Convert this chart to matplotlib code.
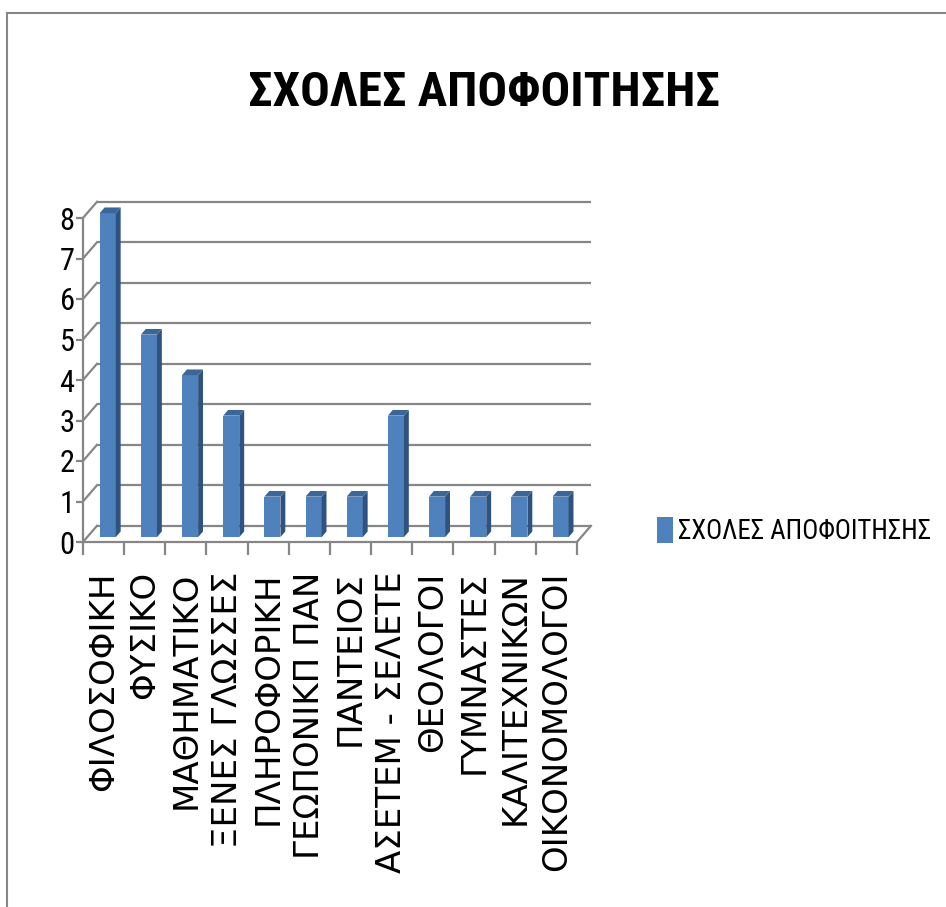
import matplotlib
matplotlib.use("Agg")
import matplotlib.pyplot as plt
from matplotlib import font_manager
from matplotlib.patches import Polygon, Patch
from matplotlib.lines import Line2D
import numpy as np

# ---------------------------------------------------------
# data
# ---------------------------------------------------------
title = "ΣΧΟΛΕΣ ΑΠΟΦΟΙΤΗΣΗΣ"
series_name = "ΣΧΟΛΕΣ ΑΠΟΦΟΙΤΗΣΗΣ"
schools = [
    "ΦΙΛΟΣΟΦΙΚΗ", "ΦΥΣΙΚΟ", "ΜΑΘΗΜΑΤΙΚΟ", "ΞΕΝΕΣ ΓΛΩΣΣΕΣ",
    "ΠΛΗΡΟΦΟΡΙΚΗ", "ΓΕΩΠΟΝΙΚΠ ΠΑΝ", "ΠΑΝΤΕΙΟΣ", "ΑΣΕΤΕΜ - ΣΕΛΕΤΕ",
    "ΘΕΟΛΟΓΟΙ", "ΓΥΜΝΑΣΤΕΣ", "ΚΑΛΙΤΕΧΝΙΚΩΝ", "ΟΙΚΟΝΟΜΟΛΟΓΟΙ",
]
graduates = [8, 5, 4, 3, 1, 1, 1, 3, 1, 1, 1, 1]
y_ticks = [0, 1, 2, 3, 4, 5, 6, 7, 8]


def pick_font(names):
    for name in names:
        try:
            font_manager.findfont(name, fallback_to_default=False)
            return name
        except ValueError:
            pass
    return "DejaVu Sans"


narrow = pick_font(["Roboto Condensed", "Open Sans Condensed",
                    "DejaVu Sans Condensed", "Roboto"])

# colours
FRONT = "#4F81BD"
SIDE = "#2F5381"
TOP = "#3B6699"
GRID = "#868686"

W, H = 946, 907
fig = plt.figure(figsize=(W / 100, H / 100), dpi=100)

# axes placed so that x 0..12 / y 0..8 land on the front plane
ax = fig.add_axes([41.8 / W, (H - 602.75) / H, 576.3 / W, 425.25 / H])
ax.set_xlim(-1, 13)
ax.set_ylim(-1.5, 9)
ax.patch.set_visible(False)

n = len(schools)
dx, dy = 0.34, 0.40          # depth of the pseudo-3d box
f0, f1 = 0.30, 0.65          # bar depth (front / back fraction)
bw = 0.39

# back wall gridlines + left wall diagonals
ax.hlines([t + dy for t in y_ticks], dx, n + dx, color=GRID, lw=1.6, zorder=1)
for t in y_ticks:
    ax.plot([0, dx], [t, t + dy], color=GRID, lw=1.6, zorder=1, clip_on=False)
# floor right edge
ax.plot([n, n + dx], [0, dy], color=GRID, lw=1.6, zorder=1, clip_on=False)

# bars: front face, side, top
x = np.arange(n) + 0.5
lefts = x - bw / 2 + f0 * dx
bottom = f0 * dy
ax.bar(lefts, graduates, width=bw, bottom=bottom, align="edge",
       color=FRONT, edgecolor="none", zorder=3)
ddx, ddy = (f1 - f0) * dx, (f1 - f0) * dy
for xl, v in zip(lefts, graduates):
    xr = xl + bw
    top = v + bottom
    ax.add_patch(Polygon([(xr, bottom), (xr + ddx, bottom + ddy),
                          (xr + ddx, top + ddy), (xr, top)],
                         closed=True, fc=SIDE, ec="none", zorder=3))
    ax.add_patch(Polygon([(xl, top), (xr, top), (xr + ddx, top + ddy),
                          (xl + ddx, top + ddy)],
                         closed=True, fc=TOP, ec="none", zorder=3))

# axes lines / ticks
for side in ["top", "right"]:
    ax.spines[side].set_visible(False)
ax.spines["left"].set_position(("data", 0))
ax.spines["left"].set_bounds(0, 8)
ax.spines["bottom"].set_position(("data", 0))
ax.spines["bottom"].set_bounds(0, n)
for side in ["left", "bottom"]:
    ax.spines[side].set_color(GRID)
    ax.spines[side].set_linewidth(1.6)
    ax.spines[side].set_zorder(2)

ax.set_yticks(y_ticks)
ax.set_yticklabels([str(t) for t in y_ticks], fontsize=22, family=narrow)
ax.tick_params(axis="y", length=5, width=1.6, color=GRID, pad=1,
               direction="out")

ax.set_xticks(np.arange(n + 1))
ax.set_xticklabels([])
ax.tick_params(axis="x", which="major", length=9, width=1.6, color=GRID,
               direction="out")
ax.set_xticks(x, minor=True)
ax.set_xticklabels(schools, minor=True, rotation=90, fontsize=24.5,
                   family="DejaVu Sans", va="top", ha="center")
ax.tick_params(axis="x", which="minor", length=0, pad=21)

# legend
ax.legend(handles=[Patch(facecolor=FRONT, edgecolor="none", label=series_name)],
          loc="center left", bbox_to_anchor=(657 / W, 1 - 531 / H),
          bbox_transform=fig.transFigure, frameon=False,
          prop={"family": narrow, "size": 19.3},
          handlelength=0.6, handleheight=1.15, handletextpad=0.2,
          borderaxespad=0, borderpad=0)

# title
fig.text(484 / W, 1 - 93 / H, title, ha="center", va="center",
         fontsize=35.5, fontweight="bold", family=narrow)

# outer frame (top and left edges)
fig.add_artist(Line2D([7 / W, 1], [1 - 13 / H, 1 - 13 / H],
                      color=GRID, lw=1.5, transform=fig.transFigure))
fig.add_artist(Line2D([7 / W, 7 / W], [0, 1 - 13 / H],
                      color=GRID, lw=1.5, transform=fig.transFigure))

fig.savefig("out.png", dpi=100)
